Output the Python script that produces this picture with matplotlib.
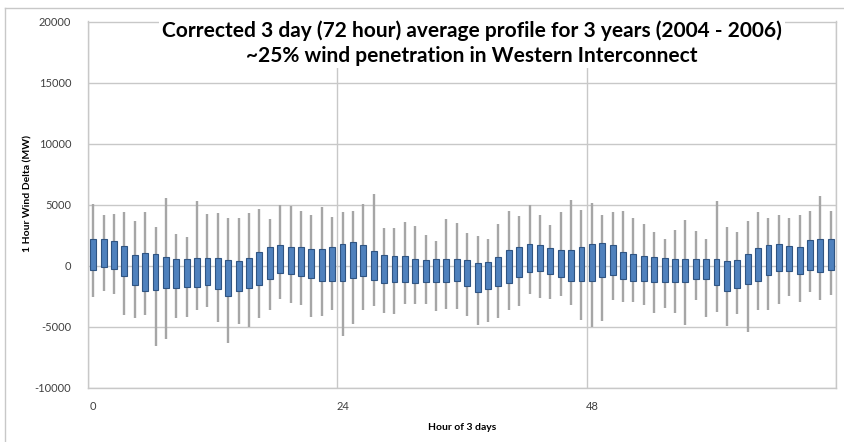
import numpy as np
import matplotlib
matplotlib.use("Agg")
import matplotlib.pyplot as plt
from matplotlib.lines import Line2D

# Hour of the 3-day profile (72 categories)
hours = np.arange(72)

# Whisker top (max), box top, box bottom, whisker bottom (MW)
whisker_high = [
    5050, 4190, 4240, 4410, 3650, 4410, 3160, 5540, 2570, 2350, 5270, 4270,
    4350, 3920, 3920, 4320, 4680, 3870, 4950, 4890, 4510, 4140, 4780, 4030,
    4380, 4460, 5050, 5870, 3110, 3110, 3570, 3300, 2490, 2030, 3840, 3510,
    2700, 2430, 2160, 3430, 4460, 4050, 4950, 4140, 3380, 4380, 5410, 4600,
    5140, 4190, 4380, 4460, 3920, 3430, 2760, 2160, 2920, 3780, 2840, 2220,
    5270, 3160, 2760, 3650, 4410, 3920, 4190, 3920, 4140, 4510, 5750, 4460,
]
box_high = [
    2160, 2160, 2030, 1620, 890, 1030, 950, 730, 590, 540, 680, 680,
    680, 510, 410, 680, 1140, 1540, 1680, 1540, 1540, 1350, 1350, 1570,
    1760, 1950, 1680, 1220, 860, 810, 810, 590, 460, 540, 590, 590,
    490, 270, 320, 760, 1270, 1570, 1760, 1680, 1490, 1300, 1300, 1570,
    1760, 1840, 1700, 1140, 950, 810, 730, 620, 540, 590, 590, 590,
    590, 410, 490, 950, 1430, 1700, 1760, 1620, 1570, 2080, 2220, 2220,
]
box_low = [
    -350, -80, -270, -810, -1540, -2080, -1970, -1840, -1840, -1760, -1700, -1570,
    -1890, -2430, -2080, -1840, -1540, -1080, -620, -680, -810, -1000, -1220, -1220,
    -1270, -1000, -860, -1140, -1410, -1300, -1300, -1430, -1350, -1300, -1350, -1220,
    -1680, -2160, -1890, -1620, -1410, -950, -540, -410, -680, -890, -1220, -1270,
    -1220, -950, -760, -1080, -1220, -1220, -1350, -1350, -1350, -1350, -1080, -1080,
    -1540, -2030, -1810, -1490, -1220, -730, -410, -410, -680, -350, -540, -350,
]
whisker_low = [
    -2570, -2080, -2300, -4000, -4240, -4050, -6540, -6030, -4240, -4190, -3600, -3380,
    -4600, -6300, -4730, -5000, -4240, -3650, -2700, -3030, -3240, -4190, -4110, -3650,
    -5760, -4780, -3650, -3320, -3870, -3970, -3110, -3160, -3110, -3700, -3510, -3510,
    -4110, -4870, -4600, -4270, -3650, -3300, -2300, -2650, -2700, -2490, -3190, -4460,
    -5000, -4540, -2780, -2970, -2970, -3240, -3870, -3460, -3870, -4810, -2780, -4190,
    -3780, -4950, -3920, -5410, -3650, -3600, -3110, -2510, -2920, -2160, -2760, -2380,
]

title = ("Corrected 3 day (72 hour) average profile for 3 years (2004 - 2006)\n"
         "~25% wind penetration in Western Interconnect")

plt.rcParams["font.family"] = ["Lato", "DejaVu Sans"]
plt.rcParams["axes.unicode_minus"] = False

fig = plt.figure(figsize=(8.44, 4.42), dpi=100)
ax = fig.add_axes([88 / 844, 1 - 388 / 442, (836 - 88) / 844, (388 - 21.5) / 442])

x = hours + 0.5
high = np.array(whisker_high)
low = np.array(whisker_low)
q3 = np.array(box_high)
q1 = np.array(box_low)

# whiskers behind the boxes
ax.vlines(x, low, high, color="#a6a6a6", lw=1.7, zorder=2)
ax.bar(x, q3 - q1, bottom=q1, width=0.57, color="#4f81bd",
       edgecolor="#2f5482", linewidth=0.8, zorder=3)

ax.set_xlim(0, 72)
ax.set_ylim(-10000, 20000)
ax.set_yticks(np.arange(-10000, 20001, 5000))
ax.set_xticks([0, 24, 48, 72])
ax.set_xticklabels([])
ax.set_xticks([0.5, 24.5, 48.5], minor=True)
ax.set_xticklabels(["0", "24", "48"], minor=True)
ax.tick_params(axis="both", which="both", length=0, labelsize=8, colors="#404040")
ax.tick_params(axis="y", pad=12)
ax.tick_params(axis="x", which="minor", pad=9)
ax.grid(True, which="major", color="#c8c8c8", lw=1, zorder=0)
for s in ax.spines.values():
    s.set_color("#c8c8c8")
    s.set_linewidth(1)

ax.set_xlabel("Hour of 3 days", fontsize=7.5, fontweight="bold", labelpad=8)
ax.set_ylabel("1 Hour Wind Delta (MW)", fontsize=7.5, fontweight="bold", labelpad=14)
ax.yaxis.set_label_coords(-56 / 748, 0.53)

fig.text(472 / 844, 1 - 43 / 442, title, ha="center", va="center",
         fontsize=15, fontweight="bold", linespacing=1.3,
         bbox=dict(facecolor="white", edgecolor="none", pad=2), zorder=10)

# chart-area border (top and left visible)
fig.add_artist(Line2D([5 / 844, 5 / 844], [0, 1 - 8 / 442], color="#c8c8c8", lw=1))
fig.add_artist(Line2D([5 / 844, 1], [1 - 8 / 442, 1 - 8 / 442], color="#c8c8c8", lw=1))

fig.savefig("out.png", dpi=100)
